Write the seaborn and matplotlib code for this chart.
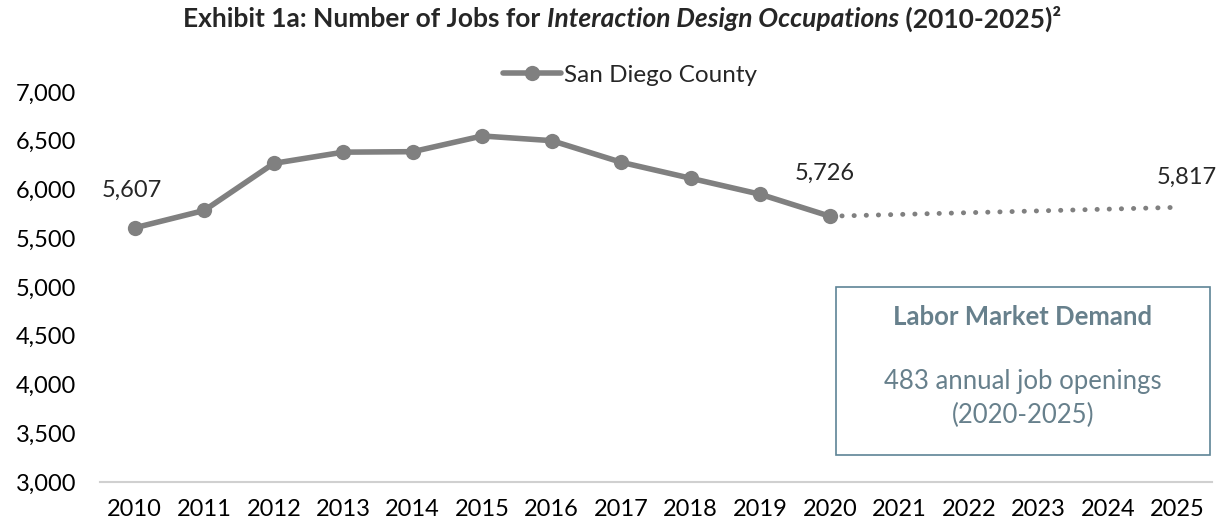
import pandas as pd
import matplotlib.pyplot as plt
import seaborn as sns
from matplotlib.patches import Rectangle

sns.set_theme(style="white")
plt.rcParams['font.family'] = ['Lato', 'DejaVu Sans']

# data
years = [str(y) for y in range(2010, 2026)]
hist_years = years[:11]
hist_jobs = [5607, 5785, 6268, 6383, 6388, 6549, 6501, 6279, 6115, 5951, 5726]
proj_years = ['2020', '2025']
proj_jobs = [5726, 5817]
series_name = 'San Diego County'
LINE_COLOR = '#808080'
BOX_COLOR = '#5e8496'
BOX_TEXT = '#67808c'

df_hist = pd.DataFrame({'Year': hist_years, 'Jobs': hist_jobs})
df_proj = pd.DataFrame({'Year': proj_years, 'Jobs': proj_jobs})

fig = plt.figure(figsize=(12.27, 5.25), dpi=100)
ax = fig.add_axes([100 / 1227, 1 - 482 / 525, 1112 / 1227, 390 / 525])

# categorical x axis over all years
ax.plot(years, [float('nan')] * len(years))
sns.lineplot(data=df_hist, x='Year', y='Jobs', ax=ax, color=LINE_COLOR, linewidth=4,
             marker='o', markersize=11, markeredgewidth=0, label=series_name, sort=False)
sns.lineplot(data=df_proj, x='Year', y='Jobs', ax=ax, color=LINE_COLOR, linewidth=3.5,
             linestyle=(0, (0.05, 2.45)), dash_capstyle='round', legend=False, sort=False)

ax.set_xlim(-0.5, len(years) - 0.5)
ax.set_ylim(3000, 7000)
ax.set_yticks(range(3000, 7001, 500))
ax.set_yticklabels([f'{v:,}' for v in range(3000, 7001, 500)])
ax.set_xlabel('')
ax.set_ylabel('')
ax.tick_params(axis='both', labelsize=17, colors='black', length=0)
ax.tick_params(axis='y', pad=17)
ax.tick_params(axis='x', pad=12)
for s in ['top', 'right', 'left']:
    ax.spines[s].set_visible(False)
ax.spines['bottom'].set_color('#d0d0d0')
ax.spines['bottom'].set_linewidth(1.5)
ax.grid(False)

# data labels
ax.annotate(f'{hist_jobs[0]:,}', (0, hist_jobs[0]), xytext=(-2, 27), textcoords='offset points',
            ha='center', va='center', fontsize=17)
ax.annotate(f'{hist_jobs[-1]:,}', (10, hist_jobs[-1]), xytext=(-3.6, 31), textcoords='offset points',
            ha='center', va='center', fontsize=17)
ax.annotate(f'{proj_jobs[-1]:,}', (15, proj_jobs[-1]), xytext=(6.5, 21.6), textcoords='offset points',
            ha='center', va='center', fontsize=17)

ax.legend(loc='center', bbox_to_anchor=(630 / 1227, 1 - 75 / 525), bbox_transform=fig.transFigure,
          frameon=False, fontsize=17.5, handlelength=2.4, handletextpad=0.15, borderpad=0)

# title with italic middle part
y_t = 1 - 19 / 525
r = fig.canvas.get_renderer()
parts = [('Exhibit 1a: Number of Jobs for ', 'normal'),
         ('Interaction Design Occupations', 'italic'),
         (' (2010-2025)²', 'normal')]
texts = [fig.text(0, y_t, s, fontsize=19, fontweight='bold', style=st, va='center') for s, st in parts]
widths = [t.get_window_extent(r).width for t in texts]
x0 = 622 - sum(widths) / 2
for t, w in zip(texts, widths):
    t.set_x(x0 / 1227)
    x0 += w

# labor market box
fig.patches.append(Rectangle((836 / 1227, 1 - 455 / 525), 374 / 1227, 168 / 525,
                             transform=fig.transFigure, fill=False, edgecolor=BOX_COLOR, linewidth=1.2))
fig.text(1023 / 1227, 1 - 317 / 525, 'Labor Market Demand', ha='center', va='center',
         fontsize=18.5, fontweight='bold', color=BOX_TEXT)
fig.text(1023 / 1227, 1 - 382 / 525, '483 annual job openings', ha='center', va='center',
         fontsize=18.5, color=BOX_TEXT)
fig.text(1023 / 1227, 1 - 415 / 525, '(2020-2025)', ha='center', va='center',
         fontsize=18.5, color=BOX_TEXT)

fig.savefig('out.png', dpi=100)
plt.close()
